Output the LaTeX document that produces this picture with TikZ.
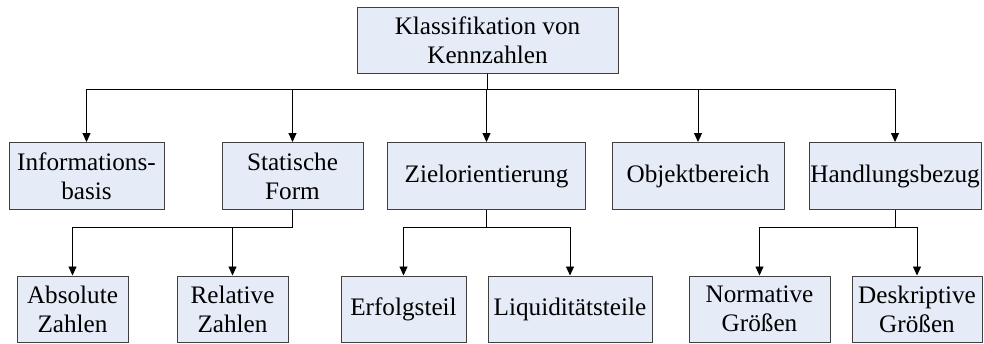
\documentclass[tikz,border=0pt]{standalone}
\usepackage{fontspec}
\setmainfont{Liberation Serif}
\usetikzlibrary{arrows.meta}
\definecolor{boxfill}{HTML}{E5ECF7}
\definecolor{boxline}{HTML}{404040}
\tikzset{
  card/.style={draw=boxline, fill=boxfill, line width=1pt, inner sep=0pt,
    align=center, font=\fontsize{25.2}{29}\selectfont},
  link/.style={draw=black, line width=0.9pt, -{Triangle[width=8pt,length=9pt]}}
}
\begin{document}
\begin{tikzpicture}[x=1pt,y=-1pt]
\useasboundingbox (0,0) rectangle (984,343);
% root
\node[card, minimum width=261pt, minimum height=66pt] (root) at (487.5,40) {Klassifikation von\\Kennzahlen};
% second level
\node[card, minimum width=155pt, minimum height=67pt] (info) at (86.5,176) {Informations-\\basis};
\node[card, minimum width=141pt, minimum height=67pt] (stat) at (292.5,176) {Statische\\Form};
\node[card, minimum width=198pt, minimum height=67pt] (ziel) at (486.5,176) {Zielorientierung};
\node[card, minimum width=172pt, minimum height=67pt] (obj) at (698,176) {Objektbereich};
\node[card, minimum width=172pt, minimum height=67pt] (hand) at (895,176) {Handlungsbezug};
% third level
\node[card, minimum width=111pt, minimum height=66pt] (abs) at (72.5,309) {Absolute\\Zahlen};
\node[card, minimum width=111pt, minimum height=66pt] (rel) at (232.5,309) {Relative\\Zahlen};
\node[card, minimum width=125pt, minimum height=66pt] (erf) at (403.5,309) {Erfolgsteil};
\node[card, minimum width=164pt, minimum height=66pt] (liq) at (570,309) {Liquiditätsteile};
\node[card, minimum width=141pt, minimum height=66pt] (norm) at (759.5,309) {Normative\\Größen};
\node[card, minimum width=130pt, minimum height=66pt] (desk) at (917,309) {Deskriptive\\Größen};
% root to second level
\foreach \n in {info,stat,ziel,obj,hand}
  \draw[link] (root.south) -- ++(0,16) -| (\n.north);
% second to third level
\foreach \n in {abs,rel}
  \draw[link] (stat.south) -- ++(0,17) -| (\n.north);
\foreach \n in {erf,liq}
  \draw[link] (ziel.south) -- ++(0,17) -| (\n.north);
\foreach \n in {norm,desk}
  \draw[link] (hand.south) -- ++(0,17) -| (\n.north);
\end{tikzpicture}
\end{document}
